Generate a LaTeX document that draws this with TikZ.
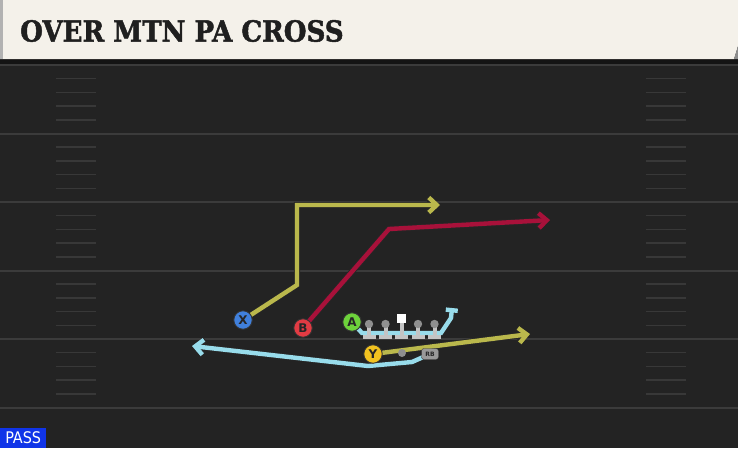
\documentclass[tikz,border=0pt]{standalone}
\usepackage{fontspec}
\usetikzlibrary{arrows.meta}
\newfontfamily\titlefont{DejaVu Serif Condensed}[FakeBold=1.6]
\newfontfamily\tagfont{DejaVu Sans Condensed}
\newfontfamily\playerfont{DejaVu Sans}
\pgfdeclarelayer{field}
\pgfdeclarelayer{routes}
\pgfsetlayers{field,routes,main}

\begin{document}
\begin{tikzpicture}[x=1pt,y=-1pt,
  route/.style={line width=4.4pt, line join=miter,
    preaction={draw=black!85, line width=6.2pt}},
  routeTip/.style={-{Straight Barb[length=8pt,width=15pt]}},
  blockTip/.style={-{Bar[width=12pt]}},
  player/.style={circle, draw=black!80, line width=0.9pt, minimum size=18.5pt,
    inner sep=0pt, text=black!85,
    font=\playerfont\bfseries\fontsize{12}{12}\selectfont},
  lineman/.pic={
    \fill[lineLight] (-6.5,10.5) rectangle (6.5,15);
    \fill[lineLight] (-2,2) rectangle (2,11);
    \fill[lineHead] (0,0) circle (4.2);},
  center/.pic={
    \fill[lineLight] (-6.5,10.5) rectangle (6.5,15);
    \fill[lineLight] (-2,-2) rectangle (2,11);
    \fill[white] (-4.8,-10) rectangle (4.8,-1.5);}
]
% Colors
\definecolor{fieldColor}{RGB}{35,35,35}
\definecolor{yardColor}{RGB}{59,59,59}
\definecolor{hashColor}{RGB}{56,56,56}
\definecolor{bannerColor}{RGB}{244,241,234}
\definecolor{oliveRoute}{RGB}{186,184,76}
\definecolor{crimsonRoute}{RGB}{168,17,58}
\definecolor{skyRoute}{RGB}{152,220,235}
\definecolor{xColor}{RGB}{64,128,220}
\definecolor{bColor}{RGB}{226,59,67}
\definecolor{aColor}{RGB}{109,210,59}
\definecolor{yColor}{RGB}{242,194,31}
\definecolor{lineLight}{RGB}{196,196,196}
\definecolor{lineHead}{RGB}{143,143,143}
\definecolor{passColor}{RGB}{16,52,232}
\useasboundingbox (0,0) rectangle (738,448);
% Field
\begin{pgfonlayer}{field}
  \fill[fieldColor] (0,0) rectangle (738,448);
  \fill[black!92] (0,59) rectangle (738,64);
  \foreach \k in {0,...,5}
    \draw[yardColor, line width=2pt] (0,65+68.5*\k) -- (738,65+68.5*\k);
  \foreach \j in {1,...,24}{
    \pgfmathtruncatemacro{\r}{mod(\j,5)}
    \ifnum\r>0
      \draw[hashColor, line width=1.5pt] (56,65+13.7*\j) -- (96,65+13.7*\j);
      \draw[hashColor, line width=1.5pt] (646,65+13.7*\j) -- (686,65+13.7*\j);
    \fi}
  % Banner
  \fill[bannerColor] (0,0) -- (738,0) -- (738,46) -- (734,59) -- (0,59) -- cycle;
  \fill[black!30] (0,0) rectangle (3,59);
  \fill[black!45] (738,46) -- (734,59) -- (738,59) -- cycle;
\end{pgfonlayer}
\node[anchor=west, inner sep=0pt, text=black!88,
  font=\titlefont\bfseries\fontsize{29}{29}\selectfont] (title) at (20,31) {OVER MTN PA CROSS};
% Players
\node[player, fill=xColor] (X) at (243,320) {X};
\node[player, fill=bColor] (B) at (303,328) {B};
\node[player, fill=aColor] (A) at (352,322) {A};
\node[player, fill=yColor] (Y) at (373,354) {Y};
\node[circle, fill=lineHead, minimum size=8pt, inner sep=0pt] (QB) at (402,353) {};
\node[draw=black!80, fill=black!40, rounded corners=2.5pt, minimum width=17pt,
  minimum height=11pt, inner sep=0pt, text=black!85,
  font=\playerfont\bfseries\fontsize{6}{6}\selectfont] (RB) at (430,354) {RB};
\foreach \x [count=\i] in {369,385.5,418,434.5}
  \pic (lt\i) at (\x,324) {lineman};
\pic (ctr) at (401.5,324) {center};
% Route corners
\coordinate (xBend)  at (297,285);
\coordinate (xTurn)  at (297,205);
\coordinate (xEnd)   at (440,205);
\coordinate (bTurn)  at (389,229);
\coordinate (bEnd)   at (550,220);
\coordinate (aLow)   at (362,333);
\coordinate (aRight) at (441,333);
\coordinate (aUp)    at (451,318);
\coordinate (aEnd)   at (452,308);
\coordinate (yEnd)   at (530,334);
\coordinate (rbLow)  at (412,362);
\coordinate (rbBend) at (368,366);
\coordinate (rbEnd)  at (192,346);
% Routes
\begin{pgfonlayer}{routes}
  \draw[route, routeTip, oliveRoute] (X.center) -- (xBend) -- (xTurn) -- (xEnd);
  \draw[route, routeTip, crimsonRoute] (B.center) -- (bTurn) -- (bEnd);
  \draw[route, blockTip, skyRoute] (A.center) -- (aLow) -- (aRight) -- (aUp) -- (aEnd);
  \draw[route, routeTip, oliveRoute] (Y.center) -- (yEnd);
  \draw[route, routeTip, skyRoute] (RB.center) -- (rbLow) -- (rbBend) -- (rbEnd);
\end{pgfonlayer}
% Play type
\node[fill=passColor, anchor=south west, minimum width=46pt, minimum height=20pt,
  inner sep=0pt, text=white, font=\tagfont\fontsize{16}{16}\selectfont] (tag) at (0,448) {PASS};
\end{tikzpicture}
\end{document}
